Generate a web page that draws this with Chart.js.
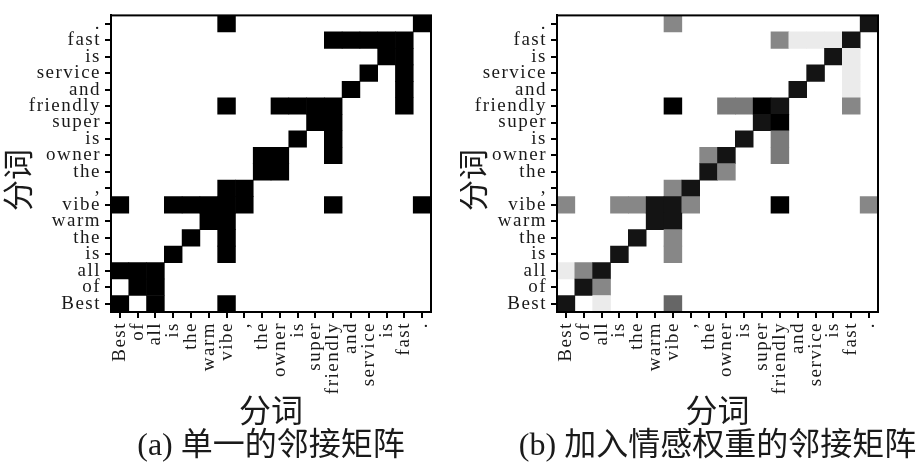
<!DOCTYPE html>
<html>
<head>
<meta charset="utf-8">
<script src="https://cdn.jsdelivr.net/npm/chart.js@4.4.1/dist/chart.umd.min.js"></script>
<style>
  html, body { margin: 0; padding: 0; background: #fff; }
  #wrap { position: relative; width: 921px; height: 467px; }
  .panel { position: absolute; top: 0; height: 467px; }
  #pa { left: 0; width: 460px; }
  #pb { left: 460px; width: 461px; }
</style>
</head>
<body>
<div id="wrap">
  <div class="panel" id="pa"><canvas id="chartA"></canvas></div>
  <div class="panel" id="pb"><canvas id="chartB"></canvas></div>
</div>
<script>
/* ===============================
   data: tokens + adjacency matrices (row 0 = "Best", bottom)
================================ */
const tokens = ['Best', 'of', 'all', 'is', 'the', 'warm', 'vibe', ',', 'the', 'owner', 'is', 'super', 'friendly', 'and', 'service', 'is', 'fast', '.'];

// (a) plain adjacency
const adjPlain = [
  [1,0,1,0,0,0,1,0,0,0,0,0,0,0,0,0,0,0],
  [0,1,1,0,0,0,0,0,0,0,0,0,0,0,0,0,0,0],
  [1,1,1,0,0,0,0,0,0,0,0,0,0,0,0,0,0,0],
  [0,0,0,1,0,0,1,0,0,0,0,0,0,0,0,0,0,0],
  [0,0,0,0,1,0,1,0,0,0,0,0,0,0,0,0,0,0],
  [0,0,0,0,0,1,1,0,0,0,0,0,0,0,0,0,0,0],
  [1,0,0,1,1,1,1,1,0,0,0,0,1,0,0,0,0,1],
  [0,0,0,0,0,0,1,1,0,0,0,0,0,0,0,0,0,0],
  [0,0,0,0,0,0,0,0,1,1,0,0,0,0,0,0,0,0],
  [0,0,0,0,0,0,0,0,1,1,0,0,1,0,0,0,0,0],
  [0,0,0,0,0,0,0,0,0,0,1,0,1,0,0,0,0,0],
  [0,0,0,0,0,0,0,0,0,0,0,1,1,0,0,0,0,0],
  [0,0,0,0,0,0,1,0,0,1,1,1,1,0,0,0,1,0],
  [0,0,0,0,0,0,0,0,0,0,0,0,0,1,0,0,1,0],
  [0,0,0,0,0,0,0,0,0,0,0,0,0,0,1,0,1,0],
  [0,0,0,0,0,0,0,0,0,0,0,0,0,0,0,1,1,0],
  [0,0,0,0,0,0,0,0,0,0,0,0,1,1,1,1,1,0],
  [0,0,0,0,0,0,1,0,0,0,0,0,0,0,0,0,0,1]
];

// (b) adjacency with sentiment weights
const adjWeighted = [
  [.92,0,.08,0,0,0,.6,0,0,0,0,0,0,0,0,0,0,0],
  [0,.92,.47,0,0,0,0,0,0,0,0,0,0,0,0,0,0,0],
  [.08,.47,.92,0,0,0,0,0,0,0,0,0,0,0,0,0,0,0],
  [0,0,0,.92,0,0,.47,0,0,0,0,0,0,0,0,0,0,0],
  [0,0,0,0,.92,0,.47,0,0,0,0,0,0,0,0,0,0,0],
  [0,0,0,0,0,.92,.92,0,0,0,0,0,0,0,0,0,0,0],
  [.47,0,0,.47,.47,.92,.92,.47,0,0,0,0,1,0,0,0,0,.47],
  [0,0,0,0,0,0,.47,.92,0,0,0,0,0,0,0,0,0,0],
  [0,0,0,0,0,0,0,0,.92,.47,0,0,0,0,0,0,0,0],
  [0,0,0,0,0,0,0,0,.47,.92,0,0,.52,0,0,0,0,0],
  [0,0,0,0,0,0,0,0,0,0,.92,0,.52,0,0,0,0,0],
  [0,0,0,0,0,0,0,0,0,0,0,.92,1,0,0,0,0,0],
  [0,0,0,0,0,0,1,0,0,.52,.52,1,.92,0,0,0,.47,0],
  [0,0,0,0,0,0,0,0,0,0,0,0,0,.92,0,0,.08,0],
  [0,0,0,0,0,0,0,0,0,0,0,0,0,0,.92,0,.08,0],
  [0,0,0,0,0,0,0,0,0,0,0,0,0,0,0,.92,.08,0],
  [0,0,0,0,0,0,0,0,0,0,0,0,.47,.08,.08,.08,.92,0],
  [0,0,0,0,0,0,.47,0,0,0,0,0,0,0,0,0,0,.92]
];

const axisTitle = '分词';
const captions = ['(a) 单一的邻接矩阵', '(b) 加入情感权重的邻接矩阵'];

/* ===============================
   helpers
================================ */
function shade(v) {
  const g = Math.round(255 * (1 - v));
  return `rgb(${g},${g},${g})`;
}

// one floating-bar dataset per matrix row
function buildDatasets(matrix) {
  return matrix.map((row, r) => ({
    data: row.map(v => (v > 0 ? [r, r + 1] : null)),
    backgroundColor: row.map(v => shade(v)),
    borderWidth: 0,
    borderSkipped: false,
    barPercentage: 1,
    categoryPercentage: 1,
    grouped: false
  }));
}

const tickFont = { family: 'Liberation Serif', size: 19 };

// the printed figure is a bit stretched sideways, so space the tick letters out
const panelText = {
  id: 'panelText',
  beforeDraw(chart) {
    chart.ctx.letterSpacing = '1.5px';
  },
  afterDraw(chart, args, opts) {
    const { ctx, chartArea: a } = chart;
    ctx.save();
    ctx.letterSpacing = '0px';
    ctx.strokeStyle = '#000';
    ctx.lineWidth = 2;
    ctx.strokeRect(a.left, a.top, a.right - a.left, a.bottom - a.top);

    ctx.fillStyle = '#1a1a1a';
    ctx.textAlign = 'center';
    ctx.textBaseline = 'middle';
    const cx = (a.left + a.right) / 2;
    ctx.font = '32px "Noto Sans CJK SC"';
    ctx.fillText(axisTitle, cx, 410);
    ctx.font = '32px "Liberation Serif", "Noto Sans CJK SC"';
    ctx.fillText(opts.caption, cx, 447);

    ctx.translate(opts.yTitleX, 180);
    ctx.rotate(-Math.PI / 2);
    ctx.font = '31px "Noto Sans CJK SC"';
    ctx.fillText(axisTitle, 0, 0);
    ctx.restore();
  }
};

function makeChart(id, matrix, cfg) {
  return new Chart(document.getElementById(id).getContext('2d'), {
    type: 'bar',
    data: { labels: tokens, datasets: buildDatasets(matrix) },
    options: {
      responsive: true,
      maintainAspectRatio: false,
      animation: false,
      layout: { padding: { top: 4, right: cfg.padRight, left: 0, bottom: 0 } },
      plugins: {
        legend: { display: false },
        tooltip: { enabled: false },
        panelText: { caption: cfg.caption, yTitleX: cfg.yTitleX }
      },
      scales: {
        x: {
          type: 'category',
          offset: true,
          grid: { display: true, drawOnChartArea: false, drawTicks: true, tickLength: 6, color: '#000', lineWidth: 2, offset: false },
          border: { display: true, color: '#000', width: 2 },
          ticks: { autoSkip: false, minRotation: 90, maxRotation: 90, padding: 4, color: '#1a1a1a', font: tickFont },
          afterFit: s => { s.height = 155; }
        },
        y: {
          type: 'linear',
          min: 0,
          max: 18,
          afterBuildTicks: s => { s.ticks = tokens.map((t, i) => ({ value: i + 0.5 })); },
          grid: { display: true, drawOnChartArea: false, drawTicks: true, tickLength: 6, color: '#000', lineWidth: 2 },
          border: { display: true, color: '#000', width: 2 },
          ticks: { autoSkip: false, padding: 4, color: '#1a1a1a', font: tickFont, callback: (v, i) => tokens[i] },
          afterFit: s => { s.width = cfg.yWidth; }
        }
      }
    },
    plugins: [panelText]
  });
}

makeChart('chartA', adjPlain, { caption: captions[0], yWidth: 111, padRight: 29, yTitleX: 17 });
makeChart('chartB', adjWeighted, { caption: captions[1], yWidth: 97, padRight: 43, yTitleX: 12 });
</script>
</body>
</html>
